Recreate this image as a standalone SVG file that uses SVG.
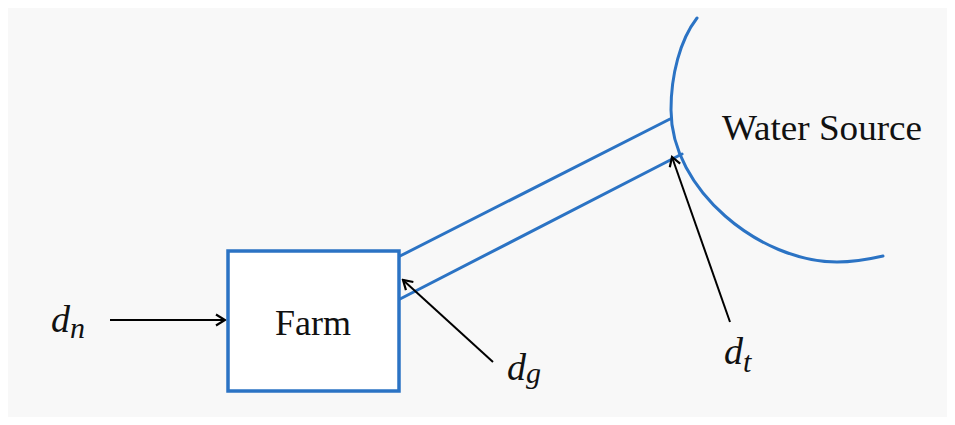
<svg xmlns="http://www.w3.org/2000/svg" width="955" height="425" viewBox="0 0 955 425">
<defs>
<style>
.blue{fill:none;stroke:#2b73c4;stroke-width:3;stroke-linecap:round}
.arr{fill:none;stroke:#000;stroke-width:2}
.lbl{font-family:"Liberation Serif","DejaVu Serif",serif;fill:#111}
.math{font-family:"Liberation Serif","DejaVu Serif",serif;font-style:italic;fill:#111}
</style>
<marker id="ah" markerWidth="14" markerHeight="14" refX="12" refY="7" orient="auto" markerUnits="userSpaceOnUse">
<path d="M3,1.5 L12,7 L3,12.5" fill="none" stroke="#000" stroke-width="2.2"/>
</marker>
</defs>
<rect x="0" y="0" width="955" height="425" fill="#ffffff"/>
<rect x="8" y="8" width="939" height="409" fill="#f8f8f8"/>
<g id="water-source">
<path class="blue" d="M697,18 C680,40 671,75 671,110 C671,190 760,262 837,262 C855,262 870,259 883,256"/>
<text class="lbl" x="722" y="140" font-size="35" textLength="200" lengthAdjust="spacingAndGlyphs">Water Source</text>
</g>
<g id="connectors">
<line class="blue" x1="400" y1="256" x2="670" y2="119"/>
<line class="blue" x1="400" y1="299" x2="682" y2="154"/>
<line class="arr" x1="110" y1="320" x2="225" y2="320" stroke-width="3" marker-end="url(#ah)"/>
<line class="arr" x1="493" y1="362" x2="403" y2="280" marker-end="url(#ah)"/>
<line class="arr" x1="730" y1="322" x2="672" y2="157" marker-end="url(#ah)"/>
</g>
<g id="farm">
<rect x="228" y="251" width="171" height="140" fill="#ffffff" stroke="#2b73c4" stroke-width="3.5"/>
<text class="lbl" x="313" y="335" font-size="36" text-anchor="middle">Farm</text>
</g>
<g id="label-dn">
<text class="math" x="51" y="332" font-size="38">d<tspan font-size="30" dy="6">n</tspan></text>
</g>
<g id="label-dg">
<text class="math" x="507" y="380" font-size="38">d<tspan font-size="30" dy="3">g</tspan></text>
</g>
<g id="label-dt">
<text class="math" x="724" y="364" font-size="38">d<tspan font-size="30" dy="8">t</tspan></text>
</g>
</svg>
